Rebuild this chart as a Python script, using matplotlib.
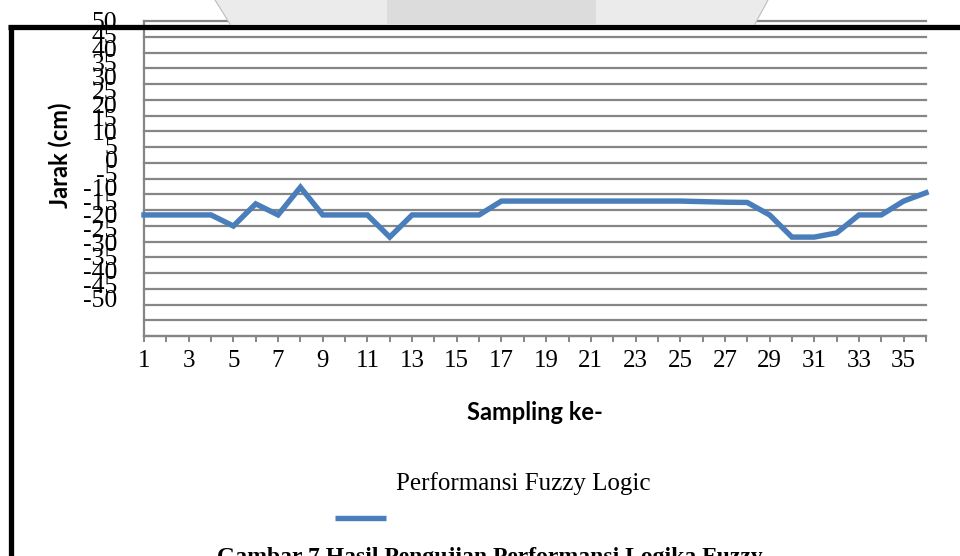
import matplotlib
matplotlib.use("Agg")
import matplotlib.pyplot as plt
from matplotlib.lines import Line2D
from matplotlib.patches import Polygon

# data
sampling = list(range(1, 37))
jarak = [-20, -20, -20, -20, -24, -16, -20, -10, -20, -20, -20, -28,
         -20, -20, -20, -20, -15, -15, -15, -15, -15, -15, -15, -15,
         -15, -15.2, -15.4, -15.5, -20, -28, -28, -26.5, -20, -20, -15, -12]
y_ticks = list(range(50, -55, -5))
x_labels = [str(s) if s % 2 == 1 else "" for s in sampling]
series_name = "Performansi Fuzzy Logic"
caption = "Gambar 7 Hasil Pengujian Performansi Logika Fuzzy"

W, H = 960, 556
LINE_C = "#4a7ebb"
GRID_C = "#868686"
SERIF = "Liberation Serif"
SANS = "Lato"


def fx(px):
    return px / W


def fy(py):
    return 1 - py / H


fig = plt.figure(figsize=(9.6, 5.56), dpi=100)

# page header decoration + page border
fig.patches.append(Polygon([[fx(215), fy(0)], [fx(387), fy(0)], [fx(387), fy(24)], [fx(230), fy(24)]],
                           closed=True, transform=fig.transFigure, fc="#ebebeb", ec="none"))
fig.patches.append(Polygon([[fx(387), fy(0)], [fx(596), fy(0)], [fx(596), fy(24)], [fx(387), fy(24)]],
                           closed=True, transform=fig.transFigure, fc="#dcdcdc", ec="none"))
fig.patches.append(Polygon([[fx(596), fy(0)], [fx(768), fy(0)], [fx(755), fy(24)], [fx(596), fy(24)]],
                           closed=True, transform=fig.transFigure, fc="#ebebeb", ec="none"))
for x0, x1 in [(215, 230), (768, 755)]:
    fig.lines.append(Line2D([fx(x0), fx(x1)], [fy(0), fy(24)], transform=fig.transFigure,
                            color="#bdbdbd", lw=0.8))

left, right, top, bottom = 144, 926, 21, 336
ax = fig.add_axes([fx(left), fy(bottom), (right - left) / W, (bottom - top) / H])

# grid axis: -50..50 spread over the whole plot area
ax.set_ylim(-50, 50)
ax.set_yticks(y_ticks)
ax.yaxis.set_ticklabels([])
ax.tick_params(axis="y", length=0)
ax.grid(axis="y", color=GRID_C, lw=1.6)
for gl in ax.get_ygridlines():
    gl.set_clip_on(False)
ax.set_axisbelow(True)
for s in ["top", "right"]:
    ax.spines[s].set_visible(False)
for s in ["left", "bottom"]:
    ax.spines[s].set_color(GRID_C)
    ax.spines[s].set_linewidth(1.6)

ax.set_xlim(1, 36)
ax.set_xticks(sampling)
ax.set_xticklabels(x_labels, fontfamily=SERIF, fontsize=18)
ax.tick_params(axis="x", length=4, width=1.4, color=GRID_C, pad=6, direction="out")

# value axis: the labels are squeezed into the upper part of the plot
ax2 = ax.twinx()
ax2.set_ylim(-63.7, 48.57)
ax2.plot(sampling, jarak, color=LINE_C, lw=3.9, solid_joinstyle="miter", clip_on=False)
ax2.set_yticks(y_ticks)
ax2.set_yticklabels([str(v) for v in y_ticks], fontfamily=SERIF, fontsize=18.5)
ax2.yaxis.tick_left()
ax2.tick_params(axis="y", length=0, pad=19)
for s in ax2.spines.values():
    s.set_visible(False)

fig.text(fx(535), fy(412), "Sampling ke-", ha="center", va="center",
         fontfamily=SANS, fontweight="bold", fontsize=17)
fig.text(fx(60), fy(155), "Jarak (cm)", ha="center", va="center", rotation=90,
         fontfamily=SANS, fontweight="bold", fontsize=17)

# legend
fig.text(fx(523), fy(490), series_name, ha="center", va="baseline",
         fontfamily=SERIF, fontsize=18)
fig.lines.append(Line2D([fx(335), fx(386)], [fy(518), fy(518)], transform=fig.transFigure,
                        color=LINE_C, lw=3.9, solid_capstyle="butt"))

fig.text(fx(490), fy(563), caption, ha="center", va="baseline",
         fontfamily=SERIF, fontweight="bold", fontsize=17)

fig.lines.append(Line2D([fx(8), fx(960)], [fy(26.5), fy(26.5)], transform=fig.transFigure,
                        color="black", lw=3.8, solid_capstyle="butt", zorder=10))
fig.lines.append(Line2D([fx(10.5), fx(10.5)], [fy(24.5), fy(556)], transform=fig.transFigure,
                        color="black", lw=3.8, solid_capstyle="butt", zorder=10))

fig.savefig("out.png", dpi=100)
